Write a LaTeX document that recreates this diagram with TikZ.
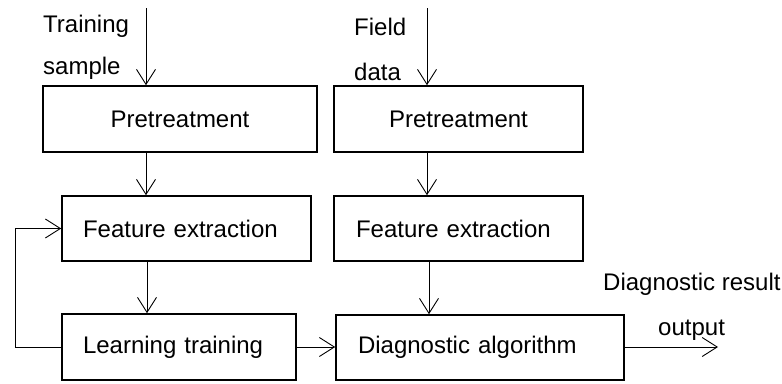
\documentclass[tikz,border=0pt]{standalone}
\usepackage{fontspec}
\setmainfont{Liberation Sans}
\usetikzlibrary{arrows.meta}
\begin{document}
\begin{tikzpicture}[x=1pt,y=-1pt,
  every node/.style={font=\fontsize{24}{28}\selectfont},
  box/.style={draw, line width=1.6pt, inner sep=0pt, minimum height=66pt},
  lbox/.style={box, align=left},
  arr/.style={line width=0.9pt, -{Straight Barb[length=15pt,width=19pt,line width=0.9pt]}},
  conn/.style={line width=0.9pt},
  lab/.style={inner sep=0pt, anchor=base west}]
\useasboundingbox (0,0) rectangle (782,383);
% boxes
\node[box, minimum width=274pt] (pL) at (180,119) {Pretreatment};
\node[lbox, inner xsep=21pt, text width=207pt, minimum height=65pt] (fL) at (186.5,228.5) {Feature extraction};
\node[lbox, inner xsep=21pt, text width=192pt] (lt) at (179,347) {Learning training};
\node[box, minimum width=249pt] (pR) at (458.5,119) {Pretreatment};
\node[lbox, inner xsep=22pt, text width=205pt, minimum height=65pt] (fR) at (458.5,228.5) {Feature extraction};
\node[lbox, inner xsep=22pt, text width=244pt, minimum height=65pt] (da) at (480,347.5) {Diagnostic algorithm};
% labels
\node[lab] (t1) at (43,32) {Training};
\node[lab] (t2) at (43,74) {sample};
\node[lab] (t3) at (354,35) {Field};
\node[lab] (t4) at (354,80) {data};
\node[lab] (t5) at (603,290) {Diagnostic result};
\node[lab] (t6) at (658,335) {output};
% coordinates
\coordinate (inL) at (146,8);
\coordinate (inR) at (427,8);
\coordinate (cL) at (147,0);
\coordinate (cR) at (429,0);
\coordinate (out) at (718,347);
% connectors
\draw[arr] (inL) -- (inL |- pL.north);
\draw[arr] (inL |- pL.south) -- (inL |- fL.north);
\draw[arr] (cL |- fL.south) -- (cL |- lt.north);
\draw[arr] (inR) -- (inR |- pR.north);
\draw[arr] (inR |- pR.south) -- (inR |- fR.north);
\draw[arr] (cR |- fR.south) -- (cR |- da.north);
\draw[arr] (lt.east) -- (lt.east -| da.west);
\draw[arr] (da.east |- out) -- (out);
\draw[arr] (lt.west) -- ++(-46,0) |- (fL.west);
\end{tikzpicture}
\end{document}
